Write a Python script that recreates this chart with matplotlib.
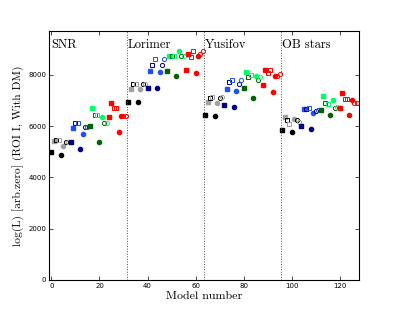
import numpy as np
import matplotlib
matplotlib.use("Agg")
import matplotlib.pyplot as plt

# model groups, 32 models each
groups = ["SNR", "Lorimer", "Yusifov", "OB stars"]

snr_vals = [4975, 5440, 5455, 5455, 4870, 5240, 5370, 5370,
            5364, 5933, 6128, 6128, 5103, 5688, 5948, 5948,
            5987, 6713, 6440, 6440, 5389, 6338, 6128, 6128,
            6338, 6907, 6700, 6700, 5777, 6389, 6389, 6389]
lorimer_vals = [6946, 7453, 7662, 7662, 6946, 7453, 7662, 7662,
                7506, 8169, 8388, 8610, 7506, 8116, 8400, 8610,
                8156, 8740, 8740, 8740, 7975, 8921, 8740, 8740,
                8208, 8831, 8714, 8921, 8091, 8726, 8800, 8921]
yusifov_vals = [6428, 6946, 7100, 7150, 6401, 6922, 7100, 7140,
                6817, 7441, 7727, 7792, 6752, 7363, 7636, 7792,
                7480, 8103, 7909, 7987, 7102, 7947, 7818, 7935,
                7597, 8208, 8090, 8208, 7324, 7947, 7947, 8050]
ob_vals = [5831, 6338, 6221, 6077, 5777, 6285, 6221, 6168,
           5987, 6661, 6687, 6700, 5896, 6505, 6596, 6635,
           6648, 7194, 6895, 6856, 6454, 7025, 6726, 6752,
           6726, 7311, 7052, 7065, 6428, 7025, 6921, 6921]

all_vals = snr_vals + lorimer_vals + yusifov_vals + ob_vals
model_num = np.arange(len(all_vals))

# (dark, light) colour per block of 8 models
pairs = [("black", "#a0a0a0"), ("#000080", "#1f50ff"),
         ("#006400", "#00ff66"), ("#ff0000", "#ff0000")]

fig = plt.figure(figsize=(3.99, 3.12), dpi=100)
ax = fig.add_axes([0.1228, 0.1026, 0.777, 0.798])

for i, y in zip(model_num, all_vals):
    dark, light = pairs[(i % 32) // 8]
    k = i % 4
    marker = "s" if (i % 8) < 4 else "o"
    if k == 0:
        ax.plot(i, y, marker, ms=3.0, mfc=dark, mec=dark)
    elif k == 1:
        ax.plot(i, y, marker, ms=3.0, mfc=light, mec=light)
    elif k == 2:
        ax.plot(i, y, marker, ms=3.0, mfc="none", mec=dark, mew=0.7)
    else:
        ax.plot(i, y, marker, ms=3.0, mfc="none", mec=light, mew=0.7)

for j, name in enumerate(groups):
    if j > 0:
        ax.axvline(32 * j - 0.5, color="0.3", ls=":", lw=0.7)
    ax.text(32 * j - 0.2, 9420, name, fontfamily="cmr10", fontsize=9,
            ha="left", va="top")

ax.set_xlim(-1, 128)
ax.set_ylim(0, 9710)
ax.set_xticks([0, 20, 40, 60, 80, 100, 120])
ax.set_yticks([0, 2000, 4000, 6000, 8000])
ax.tick_params(direction="in", top=True, right=True, labelsize=5,
               length=3, width=0.5, pad=2)
for s in ax.spines.values():
    s.set_linewidth(0.8)

ax.set_xlabel("Model number", fontfamily="cmr10", fontsize=8.6, labelpad=2)
ax.set_ylabel("log(L) [arb.zero] (ROI I, With DM)", fontfamily="cmr10",
              fontsize=8.3, labelpad=3)

fig.savefig("out.png", dpi=100)
